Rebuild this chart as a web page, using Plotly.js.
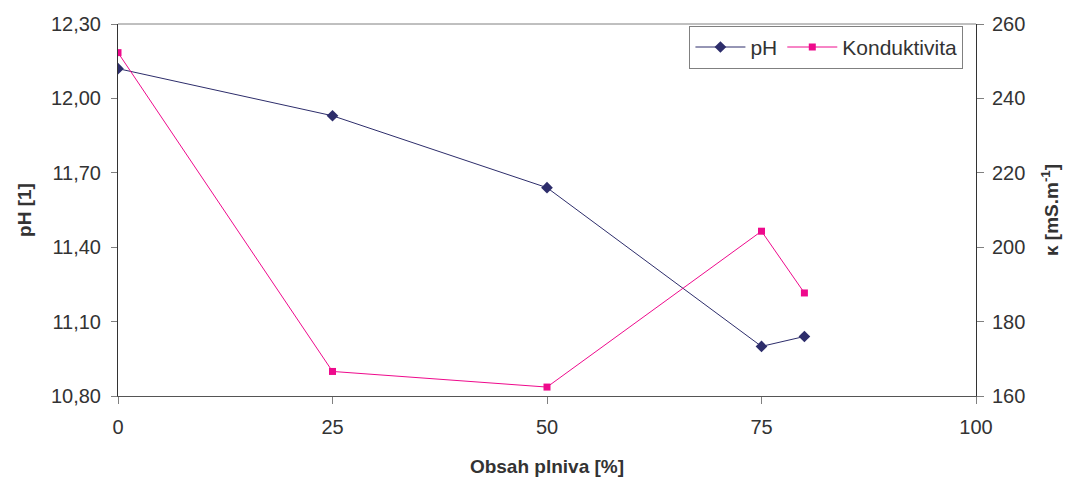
<!DOCTYPE html>
<html>
<head>
<meta charset="utf-8">
<script src="https://cdn.plot.ly/plotly-3.0.1.min.js"></script>
<style>html,body{margin:0;padding:0;background:#fff;}#chart{width:1067px;height:481px;}</style>
</head>
<body>
<div id="chart"></div>
<script>
const obsah = [0, 25, 50, 75, 80];
const pH = [12.12, 11.93, 11.64, 11.00, 11.04];
const konduktivita = [252.3, 166.6, 162.4, 204.3, 187.7];
const xTicks = [0, 25, 50, 75, 100];
const pHTicks = [10.8, 11.1, 11.4, 11.7, 12.0, 12.3];
const kTicks = [160, 180, 200, 220, 240, 260];

const fontFam = '"Liberation Sans", Arial, sans-serif';
const tf = {family: fontFam, size: 20, color: '#333'};
const traces = [
  {x: obsah, y: pH, name: 'pH', mode: 'lines+markers', yaxis: 'y',
   line: {color: '#2d2d6b', width: 1}, marker: {symbol: 'diamond', size: 9, color: '#2d2d6b'}},
  {x: obsah, y: konduktivita, name: 'Konduktivita', mode: 'lines+markers', yaxis: 'y2',
   line: {color: '#ee0a8c', width: 1}, marker: {symbol: 'square', size: 7, color: '#ee0a8c'}}
];
const layout = {
  width: 1067, height: 481,
  margin: {l: 118, r: 91, t: 24, b: 85},
  separators: ', ',
  paper_bgcolor: '#fff', plot_bgcolor: '#fff',
  font: tf,
  showlegend: true,
  legend: {x: 0.666, y: 0.995, xanchor: 'left', yanchor: 'top', orientation: 'h',
    bordercolor: '#808080', borderwidth: 1, bgcolor: '#fff', font: {family: fontFam, size: 21, color: '#333'},
    itemwidth: 50},
  xaxis: {range: [0, 100], tickvals: xTicks, ticks: 'outside', ticklen: 7, tickcolor: '#808080',
    tickfont: tf, ticklabelstandoff: 6,
    showgrid: false, zeroline: false, showline: true, linecolor: '#555', mirror: false,
    title: {text: '<b>Obsah plniva [%]</b>', font: {family: fontFam, size: 19, color: '#333'}, standoff: 22}},
  yaxis: {range: [10.8, 12.3], tickvals: pHTicks, tickformat: '.2f', ticks: 'outside', ticklen: 6,
    tickfont: tf, ticklabelstandoff: 6,
    tickcolor: '#808080', showgrid: false, zeroline: false, showline: true, linecolor: '#333',
    title: {text: '<b>pH [1]</b>', font: {family: fontFam, size: 19, color: '#333'}, standoff: 14}},
  yaxis2: {range: [160, 260], tickvals: kTicks, overlaying: 'y', side: 'right', ticks: 'outside', ticklen: 7,
    tickfont: tf, ticklabelstandoff: 4,
    tickcolor: '#808080', showgrid: false, zeroline: false, showline: true, linecolor: '#333',
    title: {text: '<b>κ [mS.m<sup>-1</sup>]</b>', font: {family: fontFam, size: 19, color: '#333'}, standoff: 20}},
  shapes: [{type: 'line', xref: 'paper', yref: 'paper', x0: 0, x1: 1, y0: 1, y1: 1,
    line: {color: '#808080', width: 1}}]
};
Plotly.newPlot('chart', traces, layout, {displayModeBar: false, staticPlot: true});
</script>
</body>
</html>
